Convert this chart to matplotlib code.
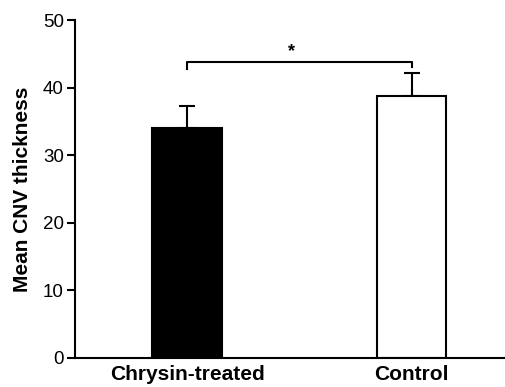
import matplotlib.pyplot as plt

plt.rcParams['font.family'] = ['Liberation Sans', 'DejaVu Sans']

groups = ["Chrysin-treated", "Control"]
means = [34.1, 38.7]
sems = [3.2, 3.5]
bar_colors = ["black", "white"]

fig = plt.figure(figsize=(5.06, 3.87), dpi=100)
ax = fig.add_axes([0.148, 0.075, 0.852, 0.873])

x = range(len(groups))
ax.bar(x, means, width=0.31, color=bar_colors, edgecolor="black", linewidth=1.5, zorder=2)
ax.errorbar(x, means, yerr=[[0, 0], sems], fmt="none", ecolor="black",
            elinewidth=1.5, capsize=6, capthick=1.5, zorder=1)

# significance bracket
ax.plot([0, 0, 1, 1], [42.7, 43.8, 43.8, 43.0], color="black", lw=1.5, clip_on=False)
ax.text(0.465, 44.1, "*", ha="center", va="bottom", fontsize=13, fontweight="bold")

ax.set_xlim(-0.5, 1.42)
ax.set_ylim(0, 50)
ax.set_yticks([0, 10, 20, 30, 40, 50])
ax.set_xticks(list(x))
ax.set_xticklabels(groups, fontsize=15, fontweight="bold")
ax.tick_params(axis="x", length=0, pad=5)
ax.tick_params(axis="y", length=6, width=1.5, labelsize=13.5, pad=2)
ax.set_ylabel("Mean CNV thickness", fontsize=15, fontweight="bold", labelpad=8)

for s in ["top", "right"]:
    ax.spines[s].set_visible(False)
for s in ["left", "bottom"]:
    ax.spines[s].set_linewidth(1.5)

fig.savefig("out.png", dpi=100)
